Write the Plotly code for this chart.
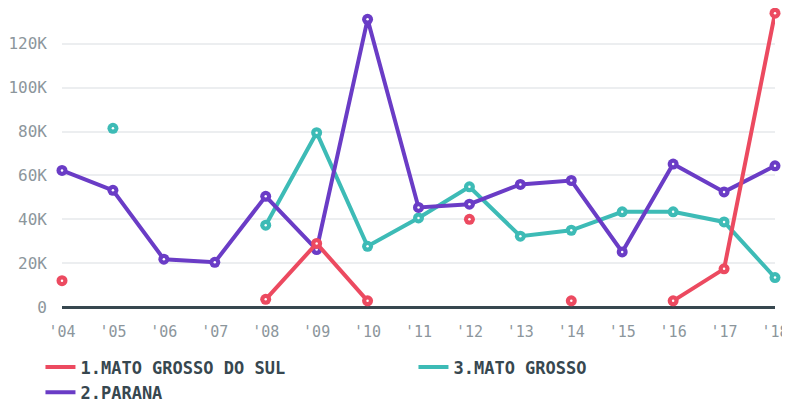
import plotly.graph_objects as go

years = [2004, 2005, 2006, 2007, 2008, 2009, 2010, 2011, 2012, 2013, 2014, 2015, 2016, 2017, 2018]
tick_labels = ["'04", "'05", "'06", "'07", "'08", "'09", "'10", "'11", "'12", "'13", "'14", "'15", "'16", "'17", "'18"]

mato_grosso_do_sul = [12000, None, None, None, 3500, 29000, 2800, None, 40000, None, 2800, None, 2800, 17400, 134000]
mato_grosso = [None, 81500, None, None, 37300, 79500, 27700, 40600, 54800, 32300, 35000, 43400, 43400, 38800, 13400]
parana = [62300, 53200, 21800, 20400, 50500, 26200, 131200, 45400, 46900, 55900, 57700, 25100, 65200, 52500, 64400]

names = ["1.MATO GROSSO DO SUL", "3.MATO GROSSO", "2.PARANA"]
colors = ["#EC4A60", "#3DBBB6", "#6A3CC6"]
series = [mato_grosso_do_sul, mato_grosso, parana]
ranks = [1, 2, 3]
draw_order = [1, 2, 0]

fig = go.Figure()
for i in draw_order:
    fig.add_trace(go.Scatter(
        x=years, y=series[i], name=names[i], mode="lines+markers",
        line=dict(color=colors[i], width=4),
        marker=dict(color=colors[i], size=11),
        showlegend=False, cliponaxis=False, connectgaps=False,
    ))
    fig.add_trace(go.Scatter(
        x=years, y=series[i], mode="markers", showlegend=False, hoverinfo="skip",
        marker=dict(color="white", size=2.5), cliponaxis=False,
    ))

for i in range(3):
    fig.add_trace(go.Scatter(
        x=[None], y=[None], name=names[i], mode="lines",
        line=dict(color=colors[i], width=4), legendrank=ranks[i],
    ))

fig.update_layout(
    width=790, height=403,
    margin=dict(l=54, r=23, t=3, b=104, autoexpand=False),
    plot_bgcolor="white", paper_bgcolor="white",
    font=dict(family="DejaVu Sans Mono", color="#8c969c"),
    xaxis=dict(
        range=[2004, 2018], tickvals=years, ticktext=tick_labels,
        showgrid=False, zeroline=False, showline=False, automargin=False,
        tickfont=dict(size=15, color="#8c969c"), ticks="", ticklabelstandoff=14,
    ),
    yaxis=dict(
        range=[0, 135000], tickvals=[0, 20000, 40000, 60000, 80000, 100000, 120000],
        ticktext=["0", "20K", "40K", "60K", "80K", "100K", "120K"],
        showgrid=True, gridcolor="#eceef0", gridwidth=1.5, automargin=False,
        zeroline=True, zerolinecolor="#37474F", zerolinewidth=3,
        tickfont=dict(size=16, color="#8c969c"), ticks="", ticklabelstandoff=14,
    ),
    legend=dict(
        orientation="h", x=-0.0302, y=-0.1436, xanchor="left", yanchor="top",
        font=dict(family="DejaVu Sans Mono", size=17, color="#37474F", weight="bold"),
        entrywidth=328, entrywidthmode="pixels", itemwidth=30,
        traceorder="normal",
    ),
    showlegend=True,
)

fig.write_html("out.html")
